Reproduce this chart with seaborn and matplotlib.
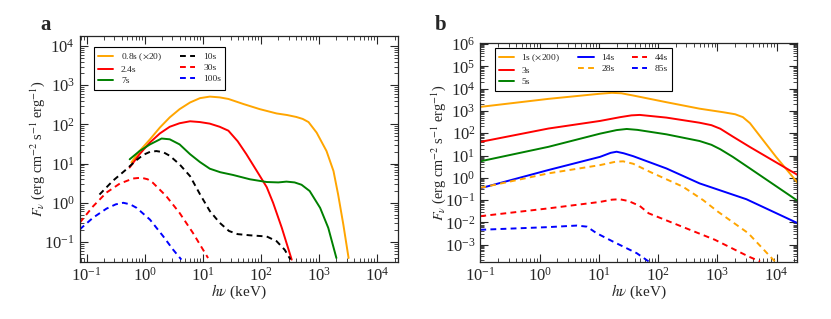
import numpy as np
import pandas as pd
import matplotlib
matplotlib.use("Agg")
import matplotlib.pyplot as plt
import seaborn as sns
from matplotlib.ticker import LogLocator, NullFormatter

sns.set_style("ticks")
plt.rcParams["font.family"] = ["Liberation Serif", "DejaVu Serif"]
plt.rcParams["mathtext.fontset"] = "stix"

# ---- panel a: log10(E / keV), log10(F_nu) ----
a_orange_x = [-0.23, -0.09, 0.09, 0.26, 0.43, 0.60, 0.78, 0.95, 1.12, 1.29, 1.44, 1.70, 1.98, 2.27, 2.45, 2.61, 2.72, 2.82, 2.96, 3.13, 3.25, 3.33, 3.42, 3.51]
a_orange_y = [1.03, 1.32, 1.62, 1.92, 2.18, 2.39, 2.56, 2.67, 2.71, 2.69, 2.65, 2.52, 2.39, 2.28, 2.24, 2.19, 2.14, 2.06, 1.79, 1.32, 0.81, 0.21, -0.56, -1.41]
a_red_x = [-0.26, -0.09, 0.09, 0.26, 0.43, 0.60, 0.78, 0.95, 1.12, 1.29, 1.44, 1.60, 1.75, 1.93, 2.10, 2.21, 2.36, 2.53]
a_red_y = [0.90, 1.24, 1.54, 1.77, 1.94, 2.03, 2.08, 2.06, 2.02, 1.94, 1.84, 1.57, 1.24, 0.81, 0.40, 0.0, -0.64, -1.45]
a_green_x = [-0.26, -0.09, 0.09, 0.29, 0.43, 0.60, 0.78, 0.95, 1.12, 1.30, 1.52, 1.81, 2.10, 2.30, 2.44, 2.58, 2.70, 2.84, 3.02, 3.16, 3.30]
a_green_y = [1.11, 1.32, 1.49, 1.64, 1.62, 1.49, 1.24, 1.04, 0.87, 0.78, 0.71, 0.60, 0.53, 0.52, 0.54, 0.52, 0.46, 0.30, -0.13, -0.64, -1.41]
a_black_x = [-0.78, -0.55, -0.32, -0.15, -0.03, 0.09, 0.20, 0.32, 0.43, 0.60, 0.78, 0.95, 1.12, 1.29, 1.45, 1.60, 1.81, 2.10, 2.27, 2.41, 2.51]
a_black_y = [0.21, 0.56, 0.85, 1.08, 1.22, 1.30, 1.32, 1.29, 1.20, 0.98, 0.68, 0.22, -0.21, -0.51, -0.72, -0.80, -0.83, -0.86, -0.98, -1.20, -1.45]
a_red_d_x = [-1.12, -0.89, -0.66, -0.43, -0.20, -0.06, 0.05, 0.14, 0.37, 0.60, 0.83, 1.09]
a_red_d_y = [-0.51, -0.09, 0.26, 0.49, 0.62, 0.64, 0.60, 0.51, 0.17, -0.26, -0.77, -1.41]
a_blue_d_x = [-1.12, -0.89, -0.66, -0.50, -0.37, -0.25, -0.14, 0.09, 0.32, 0.49, 0.63]
a_blue_d_y = [-0.68, -0.38, -0.15, -0.04, 0.0, -0.04, -0.13, -0.43, -0.86, -1.20, -1.45]

# ---- panel b ----
b_orange_x = [-1.0, 0.15, 1.02, 1.22, 1.38, 1.58, 2.14, 2.70, 3.10, 3.30, 3.43, 3.55, 3.71, 3.99, 4.36]
b_orange_y = [3.18, 3.54, 3.77, 3.81, 3.79, 3.69, 3.39, 3.10, 2.94, 2.85, 2.72, 2.45, 1.90, 0.94, -0.24]
b_red_x = [-1.0, 0.15, 1.02, 1.36, 1.55, 1.69, 2.14, 2.70, 2.90, 3.05, 3.26, 3.55, 4.36]
b_red_y = [1.61, 2.21, 2.55, 2.72, 2.80, 2.82, 2.70, 2.47, 2.36, 2.20, 1.85, 1.38, 0.12]
b_green_x = [-1.0, 0.15, 1.02, 1.30, 1.47, 1.65, 2.14, 2.70, 2.90, 3.05, 3.26, 3.55, 4.36]
b_green_y = [0.74, 1.39, 1.98, 2.14, 2.19, 2.15, 1.95, 1.65, 1.48, 1.28, 0.94, 0.42, -1.04]
b_blue_x = [-1.0, 0.15, 1.02, 1.20, 1.30, 1.42, 1.58, 2.14, 2.70, 3.49, 4.36]
b_blue_y = [-0.47, 0.35, 0.94, 1.12, 1.17, 1.10, 0.97, 0.42, -0.25, -0.96, -2.04]
b_orange_d_x = [-1.0, 0.15, 1.02, 1.28, 1.41, 1.58, 1.86, 2.42, 2.76, 3.00, 3.52, 3.97]
b_orange_d_y = [-0.45, 0.20, 0.57, 0.72, 0.74, 0.63, 0.27, -0.40, -1.00, -1.50, -2.48, -3.75]
b_red_d_x = [-1.0, 0.15, 1.02, 1.22, 1.35, 1.50, 1.69, 1.84, 2.96, 3.52, 3.72]
b_red_d_y = [-1.72, -1.37, -1.08, -0.98, -0.96, -1.04, -1.26, -1.59, -2.78, -3.52, -3.75]
b_blue_d_x = [-1.0, 0.15, 0.63, 0.80, 0.96, 1.24, 1.64, 1.84]
b_blue_d_y = [-2.33, -2.21, -2.14, -2.19, -2.48, -2.86, -3.38, -3.75]

a_series = [
    ("0.8s ($\\times$20)", a_orange_x, a_orange_y, "#FFA500", "-"),
    ("2.4s", a_red_x, a_red_y, "#FF0000", "-"),
    ("7s", a_green_x, a_green_y, "#008000", "-"),
    ("10s", a_black_x, a_black_y, "black", "--"),
    ("30s", a_red_d_x, a_red_d_y, "#FF0000", "--"),
    ("100s", a_blue_d_x, a_blue_d_y, "#0000FF", "--"),
]
b_series = [
    ("1s ($\\times$200)", b_orange_x, b_orange_y, "#FFA500", "-"),
    ("3s", b_red_x, b_red_y, "#FF0000", "-"),
    ("5s", b_green_x, b_green_y, "#008000", "-"),
    ("14s", b_blue_x, b_blue_y, "#0000FF", "-"),
    ("28s", b_orange_d_x, b_orange_d_y, "#FFA500", "--"),
    ("44s", b_red_d_x, b_red_d_y, "#FF0000", "--"),
    ("85s", b_blue_d_x, b_blue_d_y, "#0000FF", "--"),
]

fig = plt.figure(figsize=(8.31, 3.19), dpi=100)
ax_a = fig.add_axes([0.096, 0.179, 0.383, 0.708])
ax_b = fig.add_axes([0.578, 0.179, 0.381, 0.686])


def draw(ax, series, ncol, leg_top):
    for name, lx, ly, col, ls in series:
        df = pd.DataFrame({"E": 10 ** np.array(lx), "F": 10 ** np.array(ly)})
        sns.lineplot(data=df, x="E", y="F", ax=ax, color=col, lw=1.4,
                     sort=False, estimator=None, label=name)
        ax.lines[-1].set_solid_joinstyle("round")
        if ls == "--":
            ax.lines[-1].set_dashes((3, 2.2))
    ax.set_xscale("log")
    ax.set_yscale("log")
    ax.tick_params(which="both", direction="in", top=True, right=True, labelsize=12)
    ax.tick_params(which="major", length=6, width=0.8)
    ax.tick_params(which="minor", length=3, width=0.6)
    ax.xaxis.set_major_locator(LogLocator(base=10, numticks=20))
    ax.yaxis.set_major_locator(LogLocator(base=10, numticks=20))
    ax.xaxis.set_minor_locator(LogLocator(base=10, subs=np.arange(2, 10), numticks=100))
    ax.yaxis.set_minor_locator(LogLocator(base=10, subs=np.arange(2, 10), numticks=100))
    ax.xaxis.set_minor_formatter(NullFormatter())
    ax.yaxis.set_minor_formatter(NullFormatter())
    ax.set_xlabel("$h\\nu$ (keV)", fontsize=11, labelpad=-1.5)
    ax.set_ylabel("$F_\\nu$ (erg cm$^{-2}$ s$^{-1}$ erg$^{-1}$)", fontsize=10.3, labelpad=-2)
    for s in ax.spines.values():
        s.set_linewidth(0.9)
    leg = ax.legend(loc="upper left", ncol=ncol, fontsize=6.8, frameon=True,
                    fancybox=False, edgecolor="black", framealpha=1,
                    handlelength=1.6, handletextpad=0.8, columnspacing=1.9,
                    borderpad=0.45, labelspacing=0.28, borderaxespad=0,
                    bbox_to_anchor=(0.045, leg_top))
    leg.get_frame().set_linewidth(0.8)
    for h in leg.get_lines():
        h.set_linewidth(1.4)


draw(ax_a, a_series, 2, 0.952)
ax_a.set_xlim(0.076, 2.3e4)
ax_a.set_ylim(0.031, 1.8e4)

draw(ax_b, b_series, 3, 0.977)
ax_b.set_xlim(0.1, 2.2e4)
ax_b.set_ylim(1.7e-4, 1.1e6)

fig.text(0.048, 0.905, "a", fontsize=15, fontweight="bold")
fig.text(0.523, 0.905, "b", fontsize=15, fontweight="bold")

fig.savefig("out.png", dpi=100)
